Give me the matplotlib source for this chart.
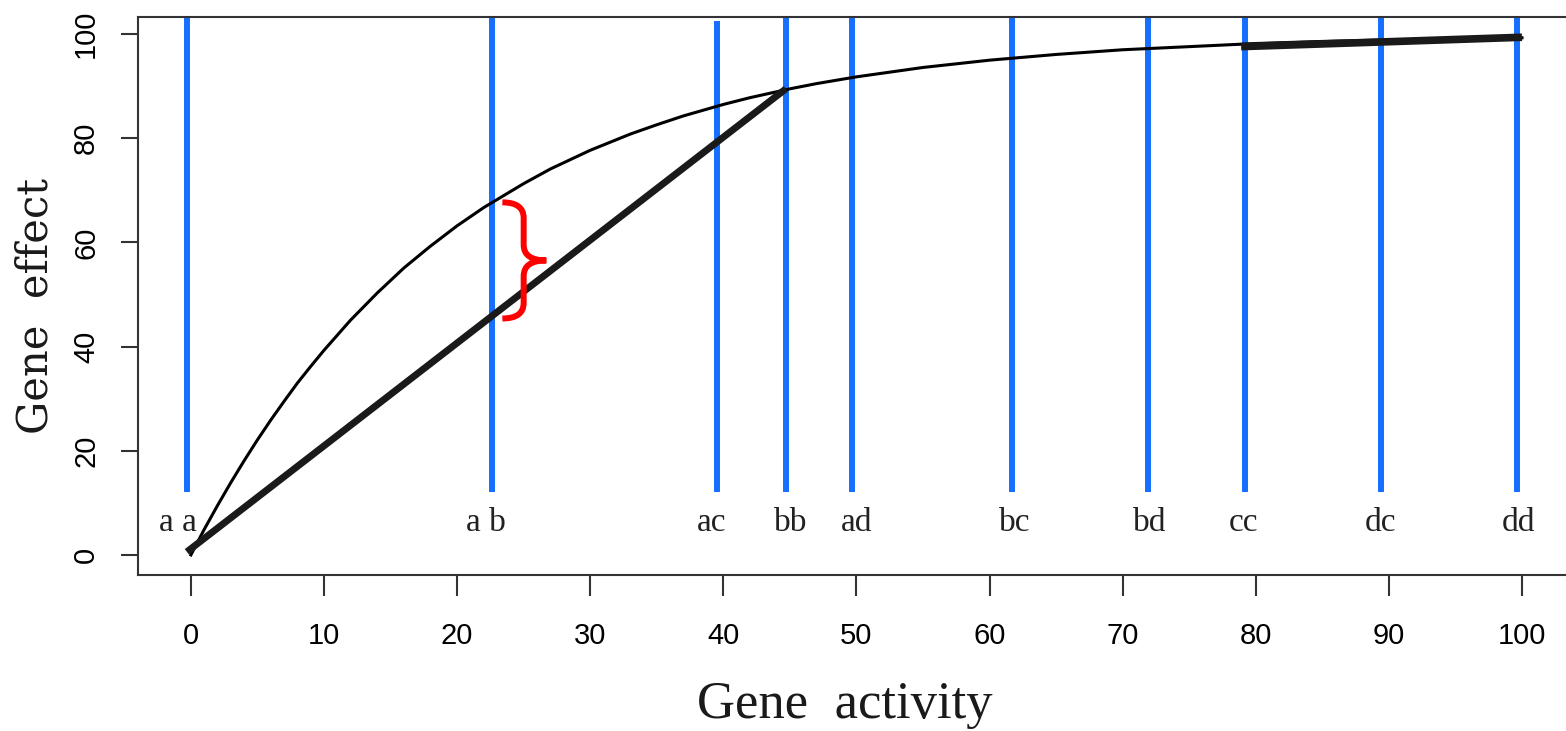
import numpy as np
import matplotlib.pyplot as plt
from matplotlib.path import Path
from matplotlib.patches import PathPatch

# Curva de efecto génico
actividad = [0, 1, 2, 3, 4, 5, 6, 7, 8, 9, 10, 12, 14, 16, 18, 20, 22, 25, 27, 30,
             33, 35, 37, 40, 42, 45, 47, 50, 55, 60, 65, 70, 75, 80, 85, 90, 95, 100]
efecto = [0, 4.9, 9.5, 13.9, 18.1, 22.1, 25.9, 29.5, 33.0, 36.2, 39.3, 45.1, 50.3,
          55.1, 59.3, 63.2, 66.7, 71.3, 74.1, 77.7, 80.8, 82.6, 84.3, 86.5, 87.8,
          89.5, 90.5, 91.8, 93.6, 95.0, 96.1, 97.0, 97.6, 98.2, 98.6, 98.9, 99.1, 99.3]

# Genotipos: posición de la línea azul y de la etiqueta
genotipos = ['a a', 'a b', 'ac', 'bb', 'ad', 'bc', 'bd', 'cc', 'dc', 'dd']
pos_linea = [-0.3, 22.6, 39.5, 44.7, 49.7, 61.7, 71.9, 79.2, 89.4, 99.6]
pos_etiqueta = [-0.95, 22.2, 39.1, 45.1, 50.0, 61.9, 72.0, 79.1, 89.4, 99.7]
tope_linea = [104, 104, 102.6, 104, 104, 104, 104, 104, 104, 104]
base_linea = 12.1
altura_etiqueta = 6.2

# Rectas aditivas
recta1_x = [-0.3, 44.7]
recta1_y = [0.6, 89.5]
recta2_x = [78.9, 100.0]
recta2_y = [97.6, 99.4]

# Llave roja entre la curva y la recta en 'ab'
llave_arriba = 67.7
llave_abajo = 45.4

fig = plt.figure(figsize=(15.66, 7.31), dpi=100)
ax = fig.add_axes([0.0879, 0.2134, 0.918, 0.7627])

ax.vlines(pos_linea, base_linea, tope_linea, color='#176FFF', linewidth=4.3, zorder=2)
ax.plot(actividad, efecto, color='black', linewidth=2.2, zorder=3)
ax.plot(recta1_x, recta1_y, color='#1a1a1a', linewidth=5, solid_capstyle='butt', zorder=4)
ax.plot(recta2_x, recta2_y, color='#1a1a1a', linewidth=5.5, solid_capstyle='butt', zorder=4)

for nombre, xe in zip(genotipos, pos_etiqueta):
    ax.text(xe, altura_etiqueta, nombre, ha='center', va='center', fontsize=24,
            family='Liberation Serif', color='#222222')

# llave }
x0, xs, xt = 23.4, 25.0, 26.7
medio = (llave_arriba + llave_abajo) / 2
r = 3.0
verts = [(x0, llave_arriba), (xs, llave_arriba), (xs, llave_arriba - r),
         (xs, medio + r), (xs, medio), (xt, medio),
         (xt, medio), (xs, medio), (xs, medio - r),
         (xs, llave_abajo + r), (xs, llave_abajo), (x0, llave_abajo)]
codes = [Path.MOVETO, Path.CURVE3, Path.CURVE3,
         Path.LINETO, Path.CURVE3, Path.CURVE3,
         Path.MOVETO, Path.CURVE3, Path.CURVE3,
         Path.LINETO, Path.CURVE3, Path.CURVE3]
ax.add_patch(PathPatch(Path(verts, codes), facecolor='none', edgecolor='red',
                       linewidth=4.3, capstyle='butt', zorder=5))

ax.set_xlim(-4, 104)
ax.set_ylim(-3.85, 103.2)
ax.set_xticks(np.arange(0, 101, 10))
ax.set_yticks(np.arange(0, 101, 20))

for lado in ax.spines.values():
    lado.set_color('#333333')
    lado.set_linewidth(1.5)

ax.tick_params(axis='x', length=15, width=1.5, color='#333333', pad=19, labelsize=21)
ax.tick_params(axis='y', length=12, width=1.5, color='#333333', pad=15, labelsize=21,
               labelrotation=90)
for t in ax.get_xticklabels() + ax.get_yticklabels():
    t.set_family('Liberation Sans')
for t in ax.get_yticklabels():
    t.set_va('center')

fig.text(845 / 1566, 1 - 705 / 731, 'Gene  activity', ha='center', va='center',
         fontsize=38, family='Liberation Serif', color='#1a1a1a')
fig.text(36 / 1566, 1 - 306 / 731, 'Gene  effect', ha='center', va='center',
         rotation=90, fontsize=30, family='DejaVu Serif', color='#1a1a1a')

fig.savefig('out.png', dpi=100)
